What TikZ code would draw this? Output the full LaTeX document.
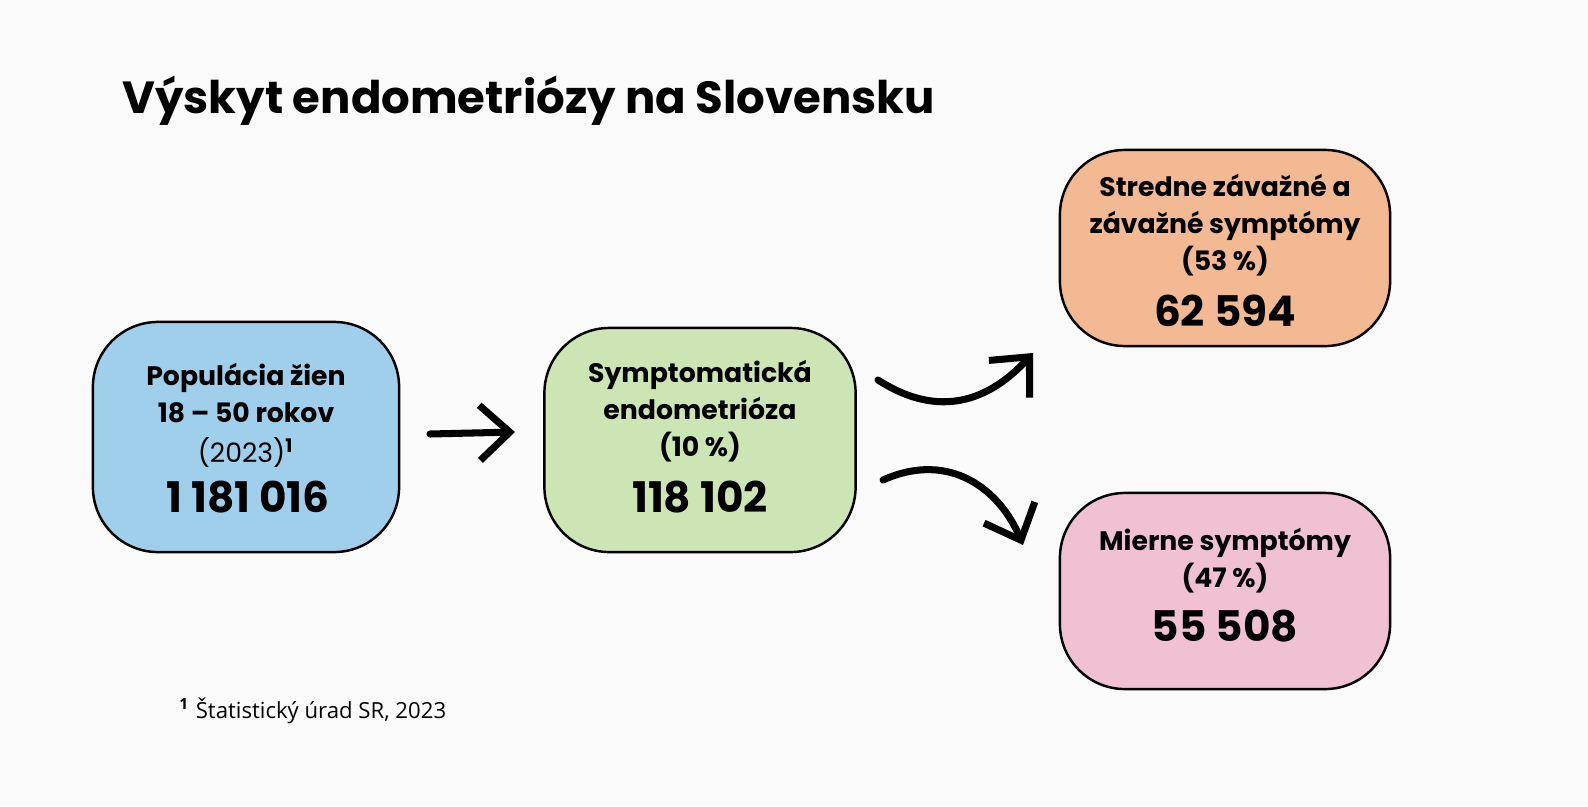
\documentclass[tikz,border=0pt]{standalone}
\usepackage{fontspec}
\setmainfont{Poppins}
\newfontfamily\notefont{Open Sans}
\usetikzlibrary{arrows.meta}
\definecolor{bgcol}{HTML}{FAFAFA}
\definecolor{boxblue}{HTML}{9FCFEA}
\definecolor{boxgreen}{HTML}{CDE4B4}
\definecolor{boxorange}{HTML}{F3B992}
\definecolor{boxpink}{HTML}{EFC1D3}
\tikzset{
	infobox/.style={draw=black, line width=0.7pt, rounded corners=0.65cm, inner sep=0pt},
	bigarrow/.style={line width=2pt, line cap=round, -{Straight Barb[length=3mm,width=5.5mm,line width=2pt]}},
	boxtext/.style={align=center, font=\fontsize{7.6}{10.6}\selectfont\bfseries},
	boxnum/.style={font=\fontsize{12}{14}\selectfont\bfseries}
}
\begin{document}
\begin{tikzpicture}[x=0.01cm,y=-0.01cm]
		
		\fill[bgcol] (0,0) rectangle (1588,806);
		\useasboundingbox (0,0) rectangle (1588,806);
		
		\node[anchor=base west, font=\fontsize{12.8}{15}\selectfont\bfseries] (title) at (110,113) {Výskyt endometriózy na Slovensku};
		
		\node[infobox, fill=boxblue, minimum width=3.06cm, minimum height=2.30cm] (pop) at (246,437) {};
		\node[boxtext] (poptext) at (246,393) {Populácia žien\\18 -- 50 rokov};
		\node[font=\fontsize{7.6}{10}\selectfont] (popyear) at (246,452) {(2023)$^{\mathbf 1}$};
		\node[boxnum] (popnum) at (248,497) {1 181 016};
		
		\node[infobox, fill=boxgreen, minimum width=3.11cm, minimum height=2.24cm] (sym) at (700,440) {};
		\node[boxtext] (symtext) at (700,411) {Symptomatická\\endometrióza\\(10 \%)};
		\node[boxnum] (symnum) at (700,497) {118 102};
		
		\node[infobox, fill=boxorange, minimum width=3.30cm, minimum height=1.96cm] (sev) at (1225,248) {};
		\node[boxtext] (sevtext) at (1225,225) {Stredne závažné a\\závažné symptómy\\(53 \%)};
		\node[boxnum] (sevnum) at (1225,311) {62 594};
		
		\node[infobox, fill=boxpink, minimum width=3.30cm, minimum height=1.96cm] (mild) at (1225,591) {};
		\node[boxtext] (mildtext) at (1225,561) {Mierne symptómy\\(47 \%)};
		\node[boxnum] (mildnum) at (1225,626) {55 508};
		
		% arrows
		\coordinate (a1) at (430,434);
		\coordinate (a2) at (515,432);
		\coordinate (b1) at (878,380);
		\coordinate (b2) at (1033,353);
		\coordinate (c1) at (883,480);
		\coordinate (c2) at (1023,545);
		\draw[bigarrow] (a1) -- (a2);
		\draw[bigarrow] (b1) .. controls (940,420) and (990,400) .. (b2);
		\draw[bigarrow] (c1) .. controls (950,450) and (1000,490) .. (c2);
		
		\node[anchor=base west, font=\notefont\fontsize{6.3}{8}\selectfont] (note) at (167,718) {\textbf{\textsuperscript{1}} Štatistický úrad SR, 2023};
		
	\end{tikzpicture}
\end{document}
